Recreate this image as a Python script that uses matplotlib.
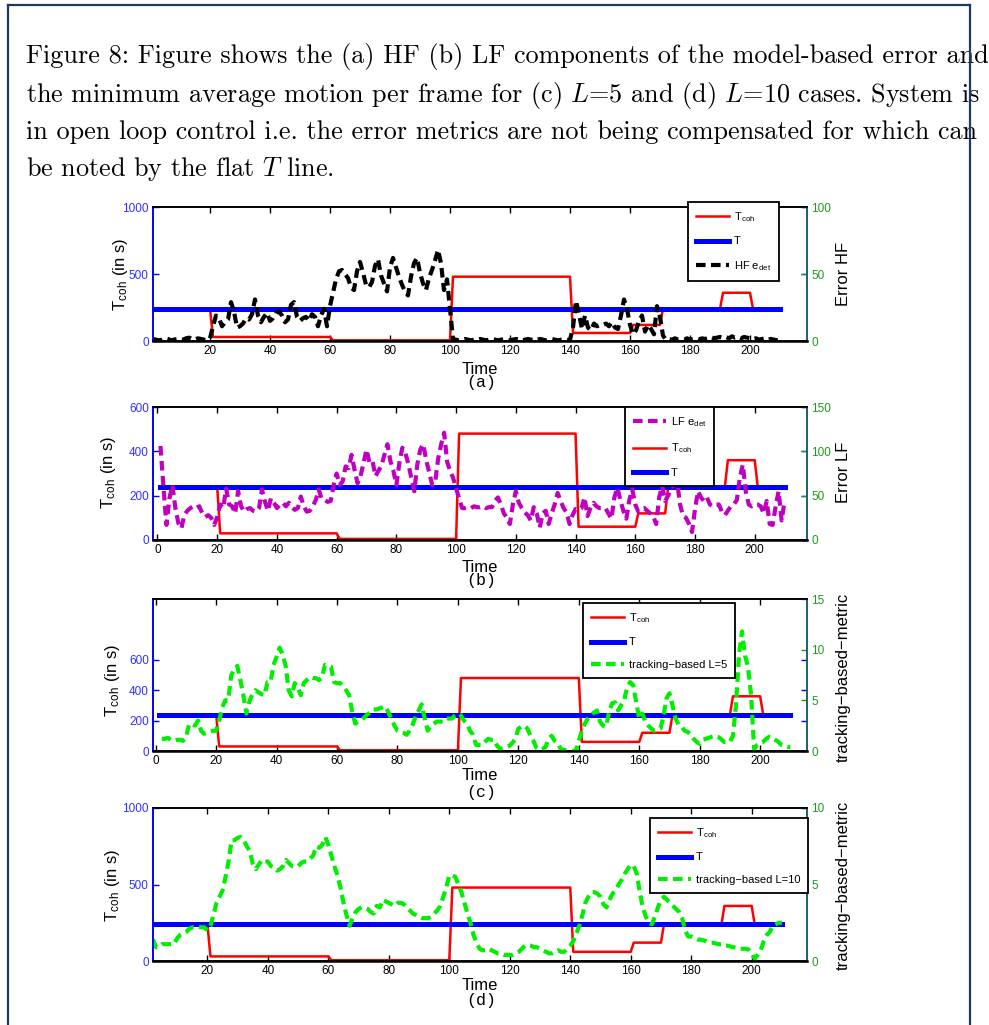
"""
Figure 8 recreation: HF / LF model-based error and tracking-based metric
against T_coh and T (open loop). Writes out.png.
"""
import numpy as np
import matplotlib
matplotlib.use("Agg")
import matplotlib.pyplot as plt
from matplotlib.lines import Line2D

plt.rcParams['font.family'] = ['Liberation Sans', 'DejaVu Sans']
plt.rcParams['mathtext.fontset'] = 'custom'
plt.rcParams['mathtext.rm'] = 'Liberation Sans'
plt.rcParams['mathtext.it'] = 'cmmi10'

# ---------------- data ----------------
time = np.arange(1, 211)

# T_coh is a step signal: level held for a number of frames
coh_levels = [240, 30, 5, 480, 60, 120, 240, 360, 240]
coh_lengths = [20, 40, 40, 40, 20, 10, 20, 10, 10]
T_level = 240

hf_err = [
    1.5, 1.0, 0.5, 1.0, 2.0, 1.5, 0.5, 1.0, 1.5, 1.0,
    1.0, 2.0, 2.5, 1.5, 1.0, 2.0, 1.5, 1.0, 0.5, 2.0,
    11, 19, 17, 11, 14, 16, 29, 22, 10, 11,
    13, 17, 16, 20, 31, 19, 14, 18, 21, 15,
    17, 21, 22, 19, 14, 16, 27, 29, 18, 15,
    17, 18, 15, 20, 18, 11, 19, 24, 11, 26,
    36, 46, 52, 53, 50, 47, 40, 38, 52, 59,
    51, 42, 40, 44, 56, 61, 49, 43, 37, 55,
    62, 55, 48, 42, 37, 34, 48, 58, 62, 51,
    43, 38, 47, 53, 60, 68, 58, 38, 46, 24,
    1.5, 1.0, 0.5, 1.0, 1.5, 1.0, 0.5, 1.0, 1.0, 1.5,
    1.0, 0.5, 1.0, 1.5, 1.0, 0.5, 1.0, 1.5, 1.0, 0.5,
    1.0, 1.5, 1.0, 0.5, 1.0, 1.5, 1.0, 0.5, 1.0, 1.5,
    1.0, 0.5, 1.0, 1.5, 1.0, 0.5, 1.0, 1.5, 1.0, 1.0,
    10, 30, 20, 9, 19, 10, 8, 13, 11, 12,
    12, 13, 11, 14, 10, 9, 19, 31, 24, 12,
    5, 8, 15, 19, 7, 12, 9, 5, 26, 18,
    4, 1.0, 1.5, 1.0, 2.0, 1.0, 1.5, 1.0, 2.0, 1.0,
    1.5, 2.0, 1.0, 2.0, 1.5, 2.0, 3.0, 2.0, 2.5, 3.0,
    2.5, 3.0, 2.0, 3.5, 2.5, 3.0, 2.0, 3.0, 2.5, 2.0,
    1.5, 2.0, 1.0, 1.5, 2.0, 1.0, 1.5, 1.0, 0.5, 1.0,
]

lf_err = [
    106, 60, 17, 47, 62, 36, 19, 13, 28, 33,
    36, 38, 36, 38, 30, 26, 28, 25, 17, 26,
    40, 36, 58, 40, 38, 30, 55, 38, 32, 35,
    36, 33, 32, 36, 57, 43, 33, 47, 42, 36,
    40, 42, 38, 42, 37, 34, 36, 49, 38, 32,
    33, 38, 45, 57, 46, 45, 43, 44, 62, 75,
    62, 66, 83, 81, 96, 79, 64, 72, 87, 102,
    87, 89, 72, 78, 84, 96, 108, 89, 78, 62,
    87, 104, 98, 86, 70, 55, 85, 102, 108, 90,
    76, 62, 66, 92, 108, 121, 88, 78, 70, 58,
    47, 36, 36, 37, 36, 38, 37, 37, 38, 36,
    37, 37, 44, 48, 40, 30, 25, 18, 40, 55,
    42, 36, 31, 28, 22, 37, 30, 14, 30, 33,
    18, 30, 40, 53, 44, 36, 31, 18, 28, 35,
    34, 36, 48, 27, 36, 42, 38, 36, 36, 36,
    30, 24, 48, 59, 45, 33, 24, 45, 57, 40,
    32, 35, 36, 33, 30, 27, 18, 48, 61, 44,
    50, 59, 62, 66, 40, 27, 25, 18, 9, 35,
    55, 48, 44, 48, 40, 38, 40, 40, 32, 28,
    33, 38, 40, 45, 70, 85, 55, 40, 38, 40,
    40, 38, 30, 44, 18, 17, 38, 55, 22, 44,
]

# tracking-based metric, frames 2..210
trk_l5 = [
    1.2, 1.2, 1.3, 1.1, 1.0, 1.1, 1.1, 1.0, 1.3,
    2.6, 2.7, 2.5, 3.0, 2.0, 1.7, 1.8, 1.9, 2.0, 2.0,
    3.0, 4.3, 5.0, 5.0, 7.5, 8.0, 8.4, 7.0, 5.5, 3.7,
    4.9, 5.6, 6.0, 5.8, 5.6, 5.5, 6.8, 6.8, 8.5, 9.3,
    10.2, 9.5, 8.4, 6.0, 5.4, 6.7, 6.3, 5.5, 6.7, 7.0,
    7.3, 7.2, 7.2, 7.0, 7.2, 8.5, 8.4, 8.3, 6.8, 6.7,
    6.7, 6.4, 6.0, 5.5, 3.9, 2.7, 2.9, 3.1, 3.3, 3.6,
    3.8, 4.1, 4.1, 4.2, 4.3, 4.4, 3.8, 3.2, 2.5, 2.0,
    1.9, 1.8, 1.6, 2.0, 2.6, 3.4, 4.0, 4.6, 3.2, 2.0,
    2.5, 2.7, 2.9, 2.9, 2.9, 3.2, 3.2, 3.2, 3.5, 3.7,
    3.5, 3.0, 2.7, 2.0, 1.6, 0.6, 0.6, 0.6, 0.9, 1.2,
    1.1, 1.1, 0.5, 0.2, 0.3, 0.4, 0.5, 0.8, 1.2, 2.2,
    2.4, 2.5, 2.2, 1.5, 1.0, 0.3, 0.1, 0.2, 0.4, 1.2,
    1.5, 1.0, 0.8, 0.2, 0.1, 0.1, 0.1, 0.0, 0.0, 1.0,
    2.0, 2.7, 3.2, 3.5, 3.8, 4.0, 2.9, 2.5, 2.4, 3.8,
    4.7, 4.8, 4.0, 4.5, 5.0, 6.3, 6.8, 6.5, 4.8, 3.2,
    3.7, 2.9, 2.5, 2.2, 2.0, 2.1, 2.2, 3.4, 5.2, 5.7,
    4.5, 3.2, 2.6, 2.4, 2.0, 1.9, 1.6, 1.2, 0.9, 0.7,
    1.1, 1.2, 1.3, 1.4, 1.5, 1.4, 1.2, 0.9, 0.9, 0.9,
    1.5, 4.5, 9.5, 11.8, 9.4, 8.3, 5.5, 0.2, 0.6, 0.8,
    0.9, 1.2, 1.4, 1.3, 1.1, 0.9, 0.6, 0.5, 0.4, 0.4,
]

trk_l10 = [
    1.4, 0.9, 0.9, 1.1, 1.1, 1.1, 1.1, 1.1, 1.5,
    1.7, 1.8, 1.9, 2.1, 2.2, 2.2, 2.25, 2.2, 2.2, 2.0,
    2.3, 3.0, 3.8, 4.2, 4.6, 5.5, 6.5, 7.9, 7.9, 8.05,
    8.1, 7.9, 7.5, 7.2, 6.35, 6.0, 6.3, 6.6, 6.5, 6.5,
    6.2, 6.1, 5.9, 6.0, 6.2, 6.6, 6.4, 6.2, 6.2, 6.2,
    6.4, 6.5, 6.5, 6.7, 6.9, 7.5, 7.4, 7.6, 8.1, 7.6,
    6.9, 6.2, 5.6, 4.8, 3.8, 3.0, 2.3, 2.8, 3.2, 3.4,
    3.5, 3.5, 3.4, 3.2, 3.1, 3.6, 3.5, 4.0, 3.9, 3.8,
    3.7, 3.6, 3.8, 3.8, 3.7, 3.5, 3.3, 3.1, 3.0, 2.9,
    2.8, 2.8, 2.8, 2.9, 3.1, 3.3, 3.6, 4.2, 4.8, 5.6,
    5.6, 5.5, 5.0, 4.5, 3.8, 3.1, 2.5, 1.7, 1.2, 0.8,
    0.7, 0.7, 0.8, 0.7, 0.6, 0.5, 0.5, 0.4, 0.4, 0.4,
    0.4, 0.5, 0.6, 0.8, 1.0, 1.05, 1.0, 0.9, 0.9, 0.8,
    0.7, 0.6, 0.5, 0.5, 0.6, 0.7, 0.6, 0.6, 0.8, 1.0,
    1.3, 1.8, 2.3, 3.0, 3.8, 4.2, 4.5, 4.5, 4.4, 4.2,
    3.7, 3.5, 4.0, 4.4, 4.6, 5.0, 5.3, 5.7, 6.0, 6.3,
    6.2, 5.7, 4.5, 3.5, 2.9, 2.5, 2.4, 2.9, 3.5, 4.0,
    4.2, 4.0, 3.8, 3.6, 3.4, 3.2, 2.8, 2.0, 1.6, 1.6,
    1.5, 1.4, 1.4, 1.35, 1.3, 1.2, 1.2, 1.15, 1.1, 1.1,
    1.0, 1.0, 0.95, 0.9, 0.85, 0.8, 0.8, 0.8, 0.75, 0.5,
    0.15, 0.4, 0.7, 1.3, 1.7, 1.9, 2.3, 2.4, 2.5, 2.5,
]

caption = [
    "Figure 8: Figure shows the (a) HF (b) LF components of the model-based error and",
    "the minimum average motion per frame for (c) $L$=5 and (d) $L$=10 cases. System is",
    "in open loop control i.e. the error metrics are not being compensated for which can",
    "be noted by the flat $T$ line.",
]

# ---------------- styling ----------------
W, H = 989, 1025
BLUE = '#0000ff'
RED = '#ff0000'
GREEN_LINE = '#00ee00'
PURPLE = '#c000c0'
RGREEN = '#1c9a1c'
TEAL = '#1f5f6f'
LBL_TICK = '#3030ff'

T_coh = np.repeat(coh_levels, coh_lengths)
T = np.full(len(time), T_level)

fig = plt.figure(figsize=(W / 100, H / 100), dpi=100)


def fx(px):
    return px / W


def fy(py):
    return 1 - py / H


def make_axes(top, bottom, left=153, right=807):
    ax = fig.add_axes([fx(left), fy(bottom), (right - left) / W, (bottom - top) / H])
    ax2 = ax.twinx()
    return ax, ax2


def style(ax, ax2, xlim, xticks, ylim, yticks, rlim, rticks):
    ax.set_xlim(xlim)
    ax.set_xticks(xticks)
    ax.set_ylim(ylim)
    ax.set_yticks(yticks)
    ax2.set_ylim(rlim)
    ax2.set_yticks(rticks)
    ax.tick_params(axis='x', direction='in', top=True, length=4, width=1,
                   labelsize=8.5, pad=3, colors='black')
    ax.tick_params(axis='y', direction='in', right=True, length=4, width=1,
                   labelsize=8.5, pad=3, colors=BLUE, labelcolor=LBL_TICK)
    ax2.tick_params(axis='y', direction='in', length=4, width=1,
                    labelsize=8.5, pad=3, colors=RGREEN)
    for a in (ax, ax2):
        a.spines['left'].set_color(BLUE)
        a.spines['right'].set_color(TEAL)
        a.spines['top'].set_color('black')
        a.spines['bottom'].set_color('black')
        for s in a.spines.values():
            s.set_linewidth(1.2)
    ax2.spines['bottom'].set_linewidth(1.8)


def add_legend(ax, handles, labels, left, top):
    leg = ax.legend(handles, labels, loc='upper left',
                    bbox_to_anchor=(fx(left), fy(top)), bbox_transform=fig.transFigure,
                    borderaxespad=0, frameon=True, fancybox=False, edgecolor='black',
                    framealpha=1, fontsize=8, handlelength=3.0, handletextpad=0.4,
                    labelspacing=1.15, borderpad=0.7)
    leg.get_frame().set_linewidth(1.3)
    leg.set_zorder(20)


def labels(cy_time, cy_tag, tag, left_x, left_y, right_text, right_y):
    fig.text(fx(480), fy(cy_time), 'Time', ha='center', va='center', fontsize=12)
    fig.text(fx(481), fy(cy_tag), tag, ha='center', va='center', fontsize=12,
             family='Liberation Mono')
    fig.text(fx(left_x), fy(left_y), r'T$_{\mathrm{coh}}$ (in s)', ha='center',
             va='center', rotation=90, fontsize=12)
    fig.text(fx(843), fy(right_y), right_text, ha='center', va='center',
             rotation=90, fontsize=12)


LW_COH, LW_T, LW_DASH = 1.8, 3.6, 3.0
DASH = (2.3, 1.3)

# ---- (a) HF ----
ax, ax2 = make_axes(207, 341)
l_coh, = ax.plot(time, T_coh, color=RED, lw=LW_COH, zorder=2)
l_T, = ax.plot(time, T, color=BLUE, lw=LW_T, zorder=3)
l_e, = ax2.plot(time, hf_err, color='black', lw=LW_DASH, ls='--', dashes=DASH)
style(ax, ax2, (1, 219), range(20, 201, 20), (0, 1000), [0, 500, 1000],
      (0, 100), [0, 50, 100])
add_legend(ax2, [l_coh, l_T, l_e],
           [r'T$_{\mathrm{coh}}$', 'T', r'HF e$_{\mathrm{det}}$'], 688, 202)
labels(369, 383, '(a)', 120, 274, 'Error HF', 274)

# ---- (b) LF ----
ax, ax2 = make_axes(407, 540)
l_coh, = ax.plot(time, T_coh, color=RED, lw=LW_COH, zorder=2)
l_T, = ax.plot(time, T, color=BLUE, lw=LW_T, zorder=3)
l_e, = ax2.plot(time, lf_err, color=PURPLE, lw=LW_DASH, ls='--', dashes=DASH)
style(ax, ax2, (-1.5, 217.5), range(0, 201, 20), (0, 600), [0, 200, 400, 600],
      (0, 150), [0, 50, 100, 150])
add_legend(ax2, [l_e, l_coh, l_T],
           [r'LF e$_{\mathrm{det}}$', r'T$_{\mathrm{coh}}$', 'T'], 625, 407)
labels(567, 581, '(b)', 108, 472, 'Error LF', 472)

# ---- (c) tracking L=5 ----
ax, ax2 = make_axes(599, 751)
l_coh, = ax.plot(time, T_coh, color=RED, lw=LW_COH, zorder=2)
l_T, = ax.plot(time, T, color=BLUE, lw=LW_T, zorder=3)
l_e, = ax2.plot(time[1:], trk_l5, color=GREEN_LINE, lw=LW_DASH, ls='--', dashes=DASH)
style(ax, ax2, (-0.9, 215.5), range(0, 201, 20), (0, 1000), [0, 200, 400, 600],
      (0, 15), [0, 5, 10, 15])
add_legend(ax2, [l_coh, l_T, l_e],
           [r'T$_{\mathrm{coh}}$', 'T', 'tracking\u2212based L=5'], 583, 603)
labels(776, 793, '(c)', 113, 680, 'tracking\u2212based\u2212metric', 677)

# ---- (d) tracking L=10 ----
ax, ax2 = make_axes(808, 961)
l_coh, = ax.plot(time, T_coh, color=RED, lw=LW_COH, zorder=2)
l_T, = ax.plot(time, T, color=BLUE, lw=LW_T, zorder=3)
l_e, = ax2.plot(time[1:], trk_l10, color=GREEN_LINE, lw=LW_DASH, ls='--', dashes=DASH)
style(ax, ax2, (2, 218.3), range(20, 201, 20), (0, 1000), [0, 500, 1000],
      (0, 10), [0, 5, 10])
add_legend(ax2, [l_coh, l_T, l_e],
           [r'T$_{\mathrm{coh}}$', 'T', 'tracking\u2212based L=10'], 650, 818)
labels(986, 1000, '(d)', 113, 885, 'tracking\u2212based\u2212metric', 885)

# ---- caption (Computer Modern), scaled to span the page width ----
cap_texts = []
for line, base in zip(caption, [63, 102, 139, 176]):
    cap_texts.append(fig.text(fx(26), fy(base), line, ha='left', va='baseline',
                              fontsize=17, family='cmr10'))
fig.canvas.draw()
bb = cap_texts[0].get_window_extent()
scale = (985 - 26) / bb.width
for t in cap_texts:
    t.set_fontsize(17 * scale)

# ---- page border ----
border = '#1f3a60'
for xs, ys in [((8, 970), (5, 5)), ((8, 8), (5, 1025)), ((970, 970), (5, 1025))]:
    fig.add_artist(Line2D([fx(x) for x in xs], [fy(y) for y in ys],
                          color=border, lw=1.6, zorder=50))

fig.savefig('out.png', dpi=100)
